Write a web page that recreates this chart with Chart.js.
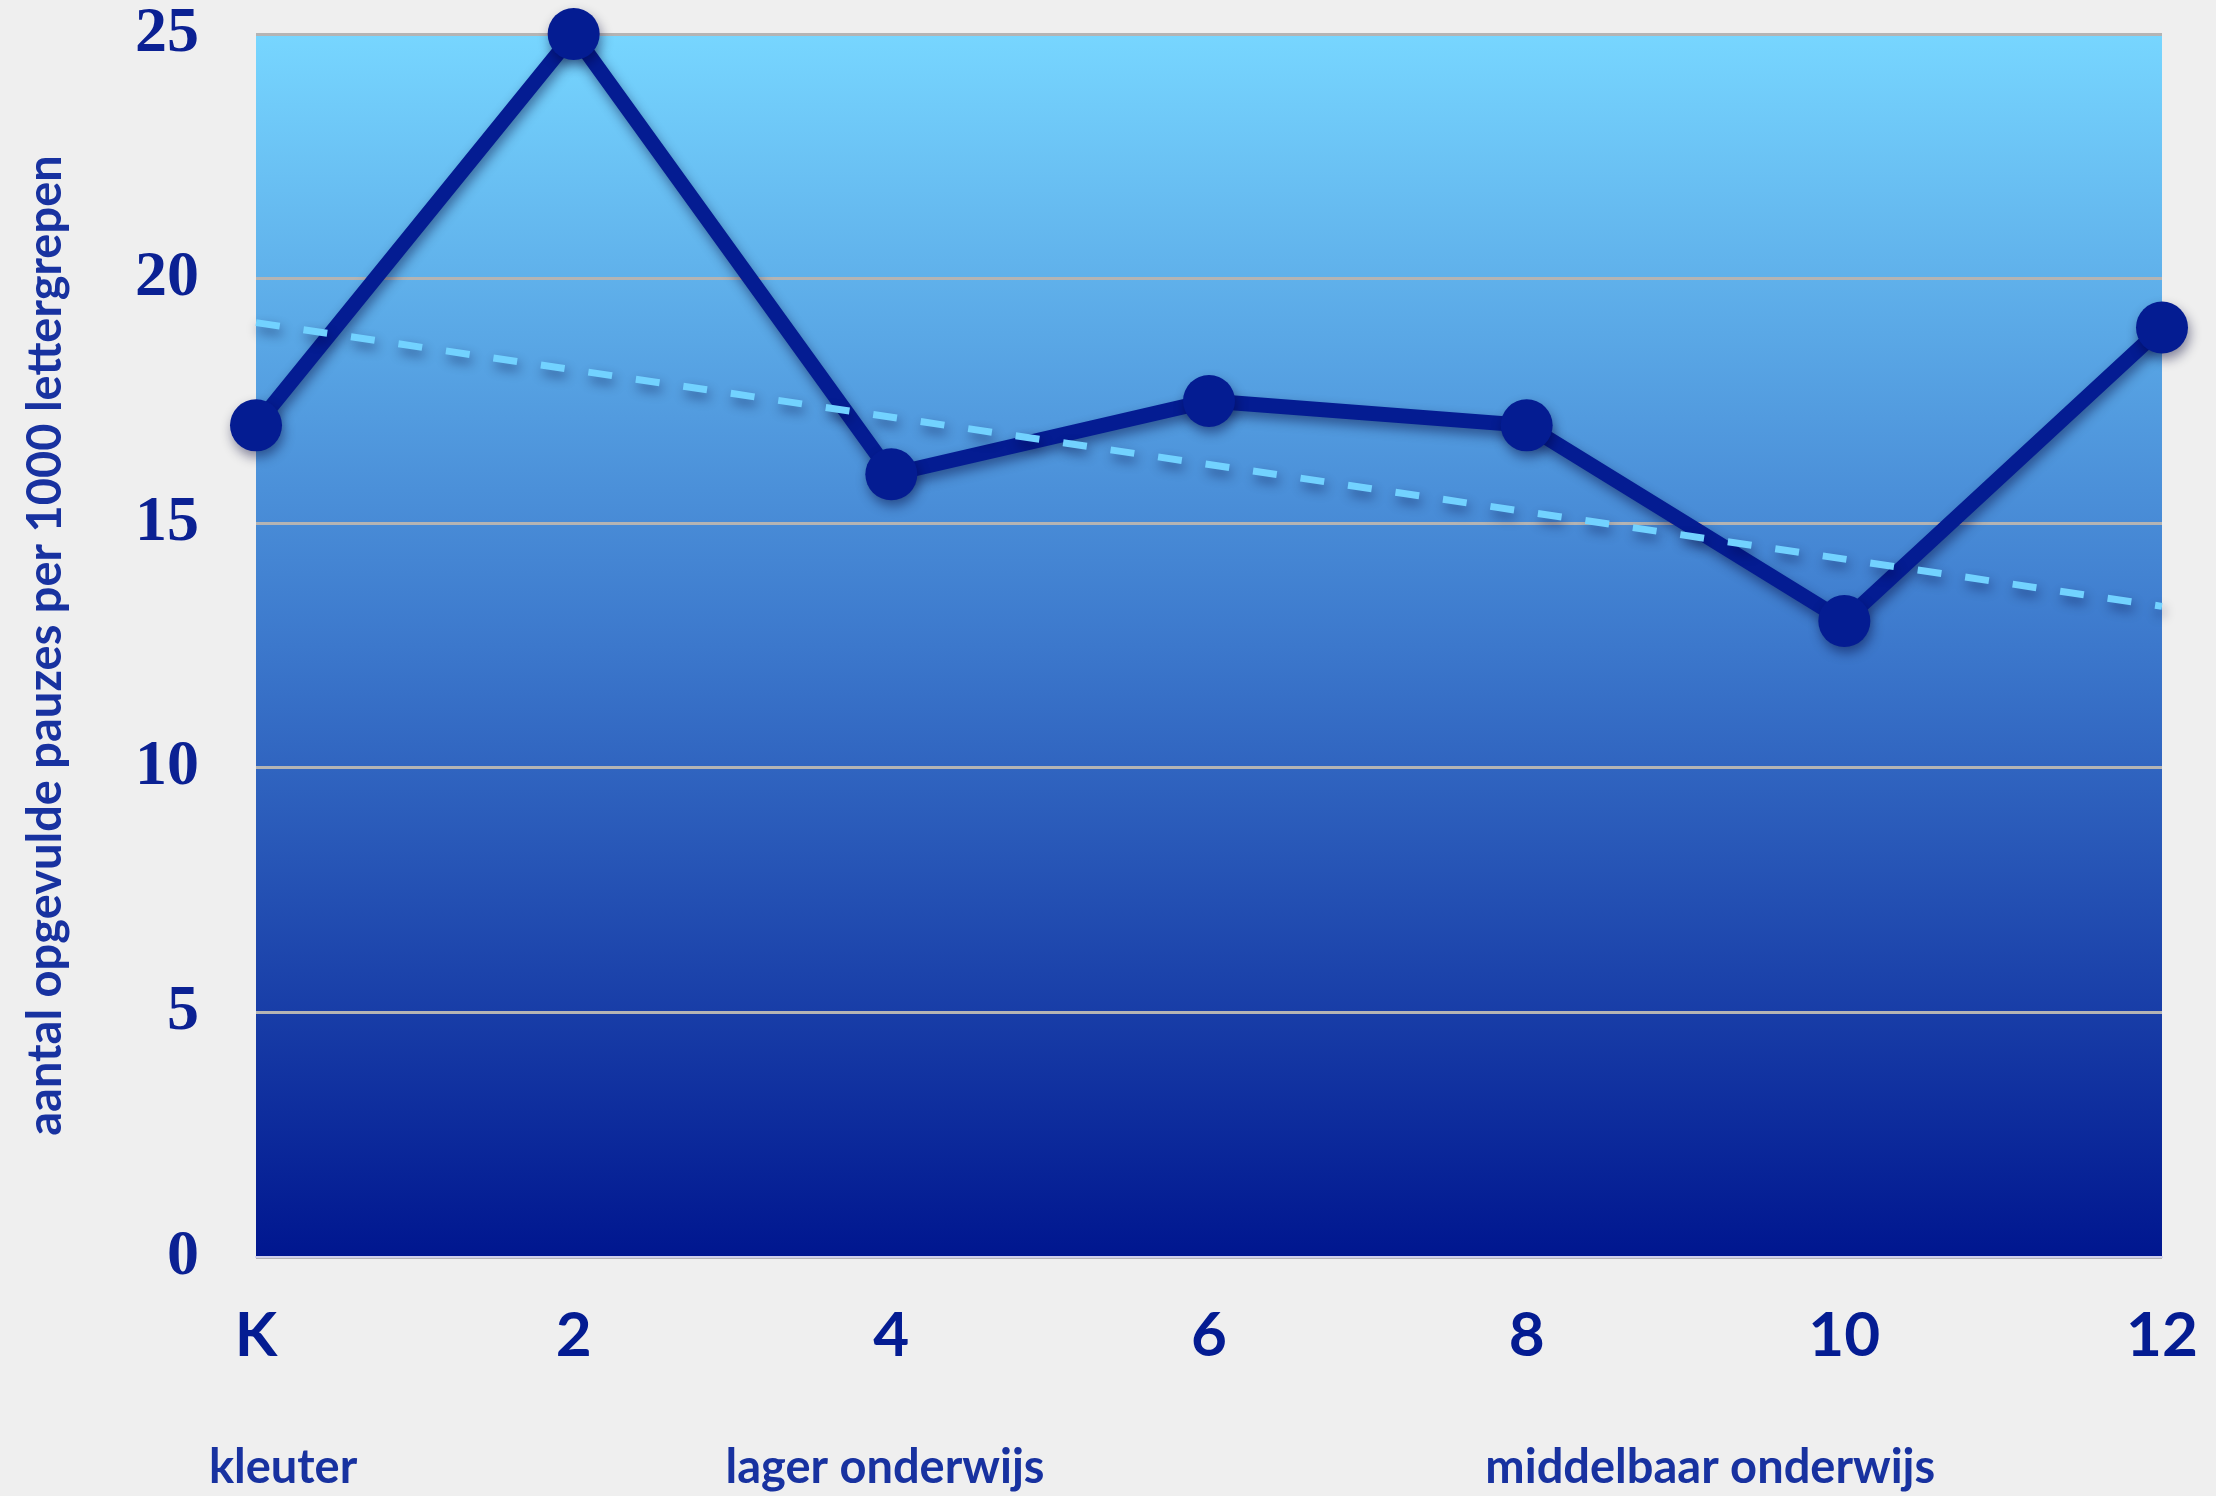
<!DOCTYPE html>
<html>
<head>
<meta charset="utf-8">
<script src="https://cdn.jsdelivr.net/npm/chart.js@4.4.1/dist/chart.umd.min.js"></script>
<style>
  html, body { margin: 0; padding: 0; background: #efefef; }
  canvas { display: block; }
</style>
</head>
<body>
<canvas id="chart" width="2216" height="1496"></canvas>
<script>
// grades (K = kleuterschool)
const grades = ["K", "2", "4", "6", "8", "10", "12"];
// filled pauses per 1000 syllables
const pauses = [17, 25, 16, 17.5, 17, 13, 19];
// trend line, only its two ends
const trend = [19.1, null, null, null, null, null, 13.3];
const yTicks = [0, 5, 10, 15, 20, 25];
const groups = ["kleuter", "lager onderwijs", "middelbaar onderwijs"];
const yTitle = "aantal opgevulde pauzes per 1000 lettergrepen";

const navy = "#041c92";

// blue gradient behind the plot area
const plotBackground = {
  id: "plotBackground",
  beforeDraw(chart) {
    const { ctx, chartArea: a } = chart;
    const g = ctx.createLinearGradient(0, a.top, 0, a.bottom);
    g.addColorStop(0, "#77d6ff");
    g.addColorStop(0.5, "#3c78cc");
    g.addColorStop(1, "#00168f");
    ctx.save();
    ctx.fillStyle = g;
    ctx.fillRect(a.left, a.top, a.right - a.left, a.bottom - a.top);
    ctx.restore();
  },
};

// soft shadow under the lines and dots
const lineShadow = {
  id: "lineShadow",
  beforeDatasetsDraw(chart) {
    const ctx = chart.ctx;
    ctx.save();
    ctx.shadowColor = "rgba(0, 0, 50, 0.45)";
    ctx.shadowBlur = 12;
    ctx.shadowOffsetX = 2;
    ctx.shadowOffsetY = 6;
  },
  afterDatasetsDraw(chart) {
    chart.ctx.restore();
  },
};

// school level labels under the axis
const groupLabels = {
  id: "groupLabels",
  afterDraw(chart) {
    const { ctx, chartArea: a } = chart;
    const w = a.right - a.left;
    const spots = [0.0142, 0.33, 0.763];
    ctx.save();
    ctx.font = "bold 47px Lato";
    ctx.fillStyle = "#1832a0";
    ctx.textAlign = "center";
    ctx.textBaseline = "alphabetic";
    groups.forEach((g, i) => {
      ctx.fillText(g, a.left + spots[i] * w, 1483);
    });
    ctx.restore();
  },
};

new Chart(document.getElementById("chart"), {
  type: "line",
  data: {
    labels: grades,
    datasets: [
      {
        label: "trend",
        data: trend,
        spanGaps: true,
        borderColor: "#72d2ff",
        borderWidth: 7,
        borderDash: [24, 24],
        pointRadius: 0,
        tension: 0,
        clip: false,
        order: 0,
      },
      {
        label: "pauzes",
        data: pauses,
        borderColor: navy,
        backgroundColor: navy,
        borderWidth: 15,
        borderJoinStyle: "round",
        borderCapStyle: "round",
        pointRadius: 26,
        pointBorderWidth: 0,
        pointBackgroundColor: navy,
        tension: 0,
        clip: false,
        order: 1,
      },
    ],
  },
  options: {
    responsive: false,
    animation: false,
    devicePixelRatio: 1,
    layout: { padding: { top: 34, right: 54, left: 0, bottom: 0 } },
    plugins: {
      legend: { display: false },
      tooltip: { enabled: false },
    },
    scales: {
      x: {
        type: "category",
        offset: false,
        grid: { display: false },
        border: { display: true, color: "rgba(210, 210, 240, 0.9)", width: 2 },
        ticks: {
          font: { family: "Lato", weight: "bold", size: 62 },
          color: navy,
          padding: 34,
          maxRotation: 0,
        },
        afterFit(scale) {
          scale.height = 239;
          scale.paddingLeft = 0;
          scale.paddingRight = 0;
        },
      },
      y: {
        min: 0,
        max: 25,
        afterBuildTicks(scale) {
          scale.ticks = yTicks.map((v) => ({ value: v }));
        },
        grid: { color: "#b4b4b4", lineWidth: 3, drawTicks: false },
        border: { display: false },
        ticks: {
          font: { family: "Liberation Serif", weight: "bold", size: 64 },
          color: "#0b2193",
          padding: 57,
        },
        title: {
          display: true,
          text: yTitle,
          font: { family: "Lato", weight: "bold", size: 47 },
          color: "#1832a0",
          padding: { top: 18, bottom: 0 },
        },
        afterFit(scale) {
          scale.width = 256;
          scale.paddingTop = 0;
          scale.paddingBottom = 0;
        },
      },
    },
  },
  plugins: [plotBackground, lineShadow, groupLabels],
});
</script>
</body>
</html>
